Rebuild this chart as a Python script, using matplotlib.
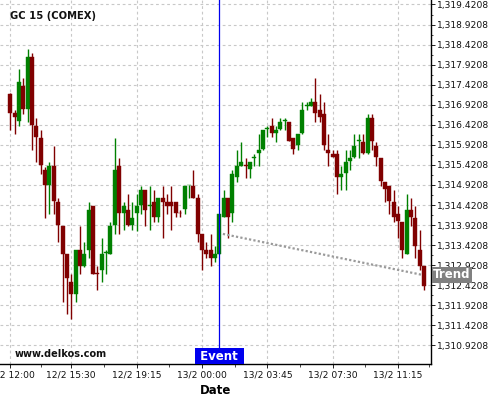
import matplotlib
matplotlib.use("Agg")
import matplotlib.pyplot as plt
import matplotlib.transforms as mtransforms
from matplotlib.ticker import FixedLocator, FuncFormatter
import numpy as np

# 15 minute candles, GC 15 (COMEX), 12/2 12:00 -> 13/2 11:45
opens = [1317.20, 1316.71, 1316.51, 1317.40, 1316.81, 1318.10, 1316.40, 1316.10,
         1315.30, 1314.91, 1315.40, 1314.50, 1313.90, 1313.20, 1312.50, 1312.21,
         1313.30, 1312.91, 1313.30, 1314.40, 1312.73, 1312.81, 1313.22, 1313.21,
         1313.91, 1315.40, 1314.21, 1314.30, 1313.91, 1314.21, 1314.41, 1314.80,
         1314.40, 1314.50, 1314.11, 1314.60, 1314.50, 1314.50, 1314.50, 1314.22,
         1314.31, 1314.91, 1314.90, 1314.60, 1313.70, 1313.30, 1313.30, 1313.11,
         1313.21, 1314.11, 1314.60, 1314.21, 1315.11, 1315.40, 1315.43, 1315.31,
         1315.60, 1315.71, 1315.81, 1316.31, 1316.40, 1316.21, 1316.31, 1316.51,
         1316.50, 1316.10, 1315.91, 1316.21, 1316.89, 1316.90, 1317.00, 1316.80,
         1316.70, 1315.80, 1315.70, 1315.70, 1315.11, 1315.21, 1315.51, 1315.61,
         1316.01, 1316.00, 1315.71, 1316.60, 1315.90, 1315.60, 1315.00, 1314.90,
         1314.50, 1314.20, 1314.00, 1313.21, 1314.30, 1314.10, 1313.30, 1312.90]
highs = [1317.22, 1316.80, 1317.80, 1317.60, 1318.30, 1318.20, 1316.59, 1316.30,
         1315.37, 1315.50, 1315.90, 1314.60, 1313.90, 1313.20, 1312.70, 1313.30,
         1313.90, 1313.50, 1314.50, 1314.40, 1312.90, 1313.60, 1313.30, 1314.00,
         1316.10, 1315.60, 1314.50, 1314.70, 1314.50, 1314.70, 1314.90, 1314.80,
         1314.89, 1314.80, 1314.60, 1314.90, 1314.70, 1314.90, 1314.50, 1314.30,
         1314.90, 1314.93, 1315.30, 1314.70, 1313.70, 1313.50, 1313.70, 1313.40,
         1314.20, 1314.80, 1314.60, 1315.30, 1315.80, 1316.00, 1315.60, 1315.50,
         1315.70, 1316.20, 1316.30, 1316.40, 1316.59, 1316.40, 1316.60, 1316.59,
         1316.50, 1316.10, 1316.20, 1317.00, 1317.00, 1317.10, 1317.60, 1317.20,
         1317.00, 1316.20, 1315.80, 1315.80, 1315.40, 1315.80, 1315.80, 1316.20,
         1316.20, 1316.20, 1316.70, 1316.70, 1316.00, 1315.60, 1315.00, 1314.90,
         1314.80, 1314.40, 1314.00, 1314.70, 1314.60, 1314.40, 1313.80, 1312.90]
lows = [1316.30, 1316.20, 1316.40, 1316.70, 1316.49, 1315.80, 1315.50, 1315.20,
        1314.10, 1314.20, 1314.20, 1313.50, 1312.00, 1311.70, 1311.57, 1312.01,
        1312.71, 1312.88, 1313.11, 1312.71, 1312.30, 1312.50, 1312.70, 1313.21,
        1313.71, 1313.70, 1313.80, 1313.89, 1313.80, 1313.78, 1314.20, 1313.89,
        1313.80, 1313.99, 1313.99, 1313.60, 1314.20, 1313.80, 1314.11, 1314.11,
        1314.20, 1314.60, 1314.60, 1313.50, 1312.80, 1313.11, 1312.90, 1312.99,
        1313.21, 1314.11, 1313.60, 1313.99, 1315.00, 1315.40, 1315.10, 1315.09,
        1315.40, 1315.40, 1315.80, 1316.11, 1316.11, 1315.99, 1316.28, 1316.30,
        1316.01, 1315.70, 1315.80, 1316.20, 1316.80, 1316.90, 1316.50, 1316.50,
        1315.80, 1315.40, 1315.61, 1314.70, 1314.80, 1314.80, 1315.30, 1315.60,
        1315.60, 1315.70, 1315.70, 1315.80, 1315.40, 1314.90, 1314.50, 1314.20,
        1313.99, 1313.60, 1313.11, 1313.20, 1313.90, 1313.11, 1312.80, 1312.30]
closes = [1316.71, 1316.61, 1317.50, 1316.81, 1318.10, 1316.41, 1316.11, 1315.41,
          1314.91, 1315.40, 1314.51, 1313.91, 1313.21, 1312.61, 1312.21, 1313.30,
          1312.91, 1313.20, 1314.30, 1312.71, 1312.71, 1313.20, 1313.24, 1313.90,
          1315.30, 1314.21, 1314.40, 1313.91, 1314.10, 1314.40, 1314.80, 1314.30,
          1314.43, 1314.11, 1314.60, 1314.50, 1314.40, 1314.40, 1314.21, 1314.21,
          1314.90, 1314.93, 1314.60, 1313.71, 1313.31, 1313.21, 1313.11, 1313.21,
          1314.20, 1314.60, 1314.11, 1315.20, 1315.40, 1315.50, 1315.40, 1315.50,
          1315.63, 1315.80, 1316.30, 1316.34, 1316.21, 1316.30, 1316.50, 1316.53,
          1316.01, 1315.81, 1316.20, 1316.80, 1316.90, 1317.00, 1316.71, 1316.61,
          1315.91, 1315.71, 1315.61, 1315.11, 1315.20, 1315.50, 1315.60, 1315.90,
          1316.03, 1315.71, 1316.60, 1316.01, 1315.61, 1315.01, 1314.81, 1314.51,
          1314.11, 1314.01, 1313.31, 1314.30, 1314.11, 1313.41, 1312.91, 1312.41]

tick_pos = [0, 14, 29, 44, 59, 74, 89]
tick_labels = ["12/2 12:00", "12/2 15:30", "12/2 19:15", "13/2 00:00",
               "13/2 03:45", "13/2 07:30", "13/2 11:15"]

event_idx = 48
trend_x = [48.8, 94.5]
trend_y = [1313.70, 1312.68]

UP = "#008000"
DOWN = "#800000"


def draw_candles(ax):
    o = np.array(opens)
    c = np.array(closes)
    x = np.arange(len(o))
    colors = [UP if cc >= oo else DOWN for oo, cc in zip(o, c)]
    ax.vlines(x, lows, highs, colors=colors, linewidth=1.0, zorder=2)
    bottoms = np.minimum(o, c)
    heights = np.maximum(np.abs(c - o), 0.015)
    ax.bar(x, heights, bottom=bottoms, width=0.92, color=colors,
           edgecolor=colors, linewidth=0.3, zorder=2)


def main():
    fig = plt.figure(figsize=(5, 4), dpi=100)
    ax = fig.add_axes([0, 0.09, 0.8614, 0.91])

    draw_candles(ax)

    ax.set_xlim(-2.36, 96.5)
    ax.set_ylim(1310.456, 1319.533)

    # spines
    ax.spines["left"].set_visible(False)
    ax.spines["top"].set_visible(False)
    ax.spines["right"].set_linewidth(1.0)
    ax.spines["bottom"].set_linewidth(1.0)

    # y axis on the right
    ax.yaxis.tick_right()
    yt = np.arange(1310.9208, 1319.5, 0.5)
    ax.yaxis.set_major_locator(FixedLocator(yt))
    ax.yaxis.set_minor_locator(FixedLocator(yt + 0.25))
    ax.yaxis.set_major_formatter(FuncFormatter(lambda v, p: f"{v:,.4f}"))
    ax.tick_params(axis="y", which="major", length=3, width=0.6,
                   labelsize=6.6, pad=1.5, labelcolor="#111111")
    ax.tick_params(axis="y", which="minor", length=1.5, width=0.5)

    ax.set_xticks(tick_pos)
    ax.set_xticklabels(tick_labels)
    mids = [(a + b) / 2 for a, b in zip(tick_pos[:-1], tick_pos[1:])] + [96]
    ax.xaxis.set_minor_locator(FixedLocator(mids))
    ax.tick_params(axis="x", which="major", length=3, width=0.6,
                   labelsize=6.6, pad=2, labelcolor="#111111")
    ax.tick_params(axis="x", which="minor", length=2, width=0.5)

    ax.set_axisbelow(True)
    ax.grid(True, which="major", color="#c8c8c8", linestyle=(0, (2.5, 2.5)),
            linewidth=0.8)

    ax.set_xlabel("Date", fontsize=8.5, fontweight="bold")
    ax.xaxis.set_label_coords(0.5, -0.055)

    # event marker
    ax.axvline(event_idx, color="#0000ee", linewidth=0.9, zorder=3)
    ax.text(event_idx, 0.004, " Event ", transform=mtransforms.blended_transform_factory(ax.transData, ax.transAxes),
            ha="center", va="bottom", color="white", fontsize=8.5, fontweight="bold",
            bbox=dict(boxstyle="square,pad=0.12", facecolor="#0000ee", edgecolor="none"),
            zorder=5)

    # trend line
    ax.plot(trend_x, trend_y, color="#9a9a9a", linewidth=1.6,
            linestyle=(0, (1, 1)), zorder=2.5)
    ax.annotate("Trend", xy=(1, trend_y[-1]), xycoords=("axes fraction", "data"),
                xytext=(1.6, 0), textcoords="offset points", ha="left", va="center",
                color="white", fontsize=8.5, fontweight="bold", annotation_clip=False,
                bbox=dict(boxstyle="square,pad=0.12", facecolor="#808080", edgecolor="none"),
                zorder=5)

    ax.text(0.023, 0.957, "GC 15 (COMEX)", transform=ax.transAxes, ha="left",
            va="center", fontsize=7.2, fontweight="bold", color="#111111")
    ax.text(0.035, 0.028, "www.delkos.com", transform=ax.transAxes, ha="left",
            va="center", fontsize=7, fontweight="bold", color="#111111")

    fig.savefig("out.png", dpi=100)


if __name__ == "__main__":
    main()
